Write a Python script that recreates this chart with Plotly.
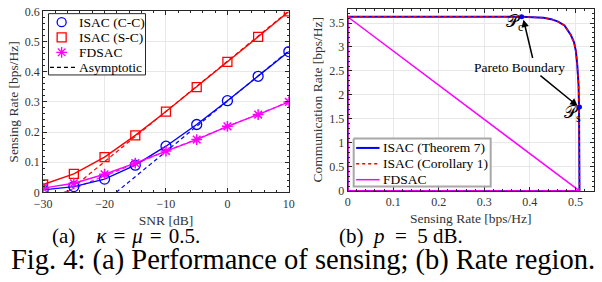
import plotly.graph_objects as go

# ---------------- data (a) ----------------
snr = [-30, -25, -20, -15, -10, -5, 0, 5, 10]
isac_cc = [0.008, 0.019, 0.044, 0.090, 0.153, 0.225, 0.304, 0.385, 0.467]
isac_sc = [0.026, 0.061, 0.117, 0.189, 0.268, 0.349, 0.433, 0.516, 0.600]
fdsac = [0.014, 0.030, 0.060, 0.097, 0.137, 0.175, 0.219, 0.258, 0.300]
asym_cc_x = [-18.1, 10]
asym_cc_y = [0.0, 0.470]
asym_sc_x = [-26.1, 10]
asym_sc_y = [0.0, 0.602]
asym_fd_x = [-26.6, 10]
asym_fd_y = [0.0, 0.300]

# ---------------- data (b) ----------------
isac_rs = [0, 0, 0.382, 0.41, 0.43, 0.447, 0.462, 0.476, 0.49, 0.497, 0.501, 0.504, 0.507, 0.508, 0.509, 0.509, 0]
isac_rc = [0, 3.63, 3.63, 3.625, 3.61, 3.58, 3.53, 3.45, 3.25, 3.1, 2.92, 2.65, 2.2, 1.75, 1.0, 0, 0]
cor_rs = isac_rs
cor_rc = isac_rc
fd_rs = [0, 0, 0.509, 0]
fd_rc = [0, 3.63, 0, 0]
pc_pt = (0.382, 3.63)
ps_pt = (0.509, 1.75)

legend_a = ["ISAC (C-C)", "ISAC (S-C)", "FDSAC", "Asymptotic"]
legend_b = ["ISAC (Theorem 7)", "ISAC (Corollary 1)", "FDSAC"]

BLUE = "#0000FF"
RED = "#FF0000"
MAG = "#FF00FF"
FONT = "Liberation Serif"
AX = "#262626"
TICKC = "#333333"
DASH = "4px,3px"

fig = go.Figure()

# ---- (a) curves ----
for xs, ys, col in [(asym_cc_x, asym_cc_y, BLUE), (asym_sc_x, asym_sc_y, RED), (asym_fd_x, asym_fd_y, MAG)]:
    fig.add_trace(go.Scatter(x=xs, y=ys, mode="lines", line=dict(color=col, dash=DASH, width=1.2),
                             showlegend=False, xaxis="x", yaxis="y"))
fig.add_trace(go.Scatter(x=snr, y=isac_cc, mode="lines+markers", line=dict(color=BLUE, width=1.4),
                         marker=dict(symbol="circle-open", size=10, color=BLUE, line=dict(width=1.3)),
                         showlegend=False, xaxis="x", yaxis="y"))
fig.add_trace(go.Scatter(x=snr, y=isac_sc, mode="lines+markers", line=dict(color=RED, width=1.4),
                         marker=dict(symbol="square-open", size=9, color=RED, line=dict(width=1.3)),
                         showlegend=False, xaxis="x", yaxis="y"))
fig.add_trace(go.Scatter(x=snr, y=fdsac, mode="lines+markers", line=dict(color=MAG, width=1.4),
                         marker=dict(symbol="asterisk-open", size=9, color=MAG, line=dict(width=1.5, color=MAG)),
                         showlegend=False, xaxis="x", yaxis="y"))

# ---- (b) curves ----
fig.add_trace(go.Scatter(x=isac_rs, y=isac_rc, mode="lines", line=dict(color=BLUE, width=2),
                         showlegend=False, xaxis="x2", yaxis="y2"))
fig.add_trace(go.Scatter(x=cor_rs, y=cor_rc, mode="lines", line=dict(color=RED, width=1.5, dash="3px,3px"),
                         showlegend=False, xaxis="x2", yaxis="y2"))
fig.add_trace(go.Scatter(x=fd_rs, y=fd_rc, mode="lines", line=dict(color=MAG, width=1.5),
                         showlegend=False, xaxis="x2", yaxis="y2"))
fig.add_trace(go.Scatter(x=[pc_pt[0], ps_pt[0]], y=[pc_pt[1], ps_pt[1]], mode="markers",
                         marker=dict(color=BLUE, size=5), showlegend=False, xaxis="x2", yaxis="y2"))

# ---- custom legends drawn on a pixel-space overlay (x3/y3) ----
def legend_box(x0, y0, x1, y1, border, bw):
    fig.add_trace(go.Scatter(x=[x0, x1, x1, x0, x0], y=[y0, y0, y1, y1, y0], mode="lines", fill="toself",
                             fillcolor="white", line=dict(color=border, width=bw), showlegend=False,
                             hoverinfo="skip", xaxis="x3", yaxis="y3"))

legend_box(40.5, 7, 140, 71.5, AX, 1)
rows_a = [16, 32, 47.7, 63.5]
for (sym, col), ry in zip([("circle-open", BLUE), ("square-open", RED), ("asterisk-open", MAG)], rows_a[:3]):
    fig.add_trace(go.Scatter(x=[54], y=[ry], mode="markers", cliponaxis=False,
                             marker=dict(symbol=sym, size=9, color=col, line=dict(width=1.3, color=col)),
                             showlegend=False, hoverinfo="skip", xaxis="x3", yaxis="y3"))
fig.add_trace(go.Scatter(x=[42, 68], y=[rows_a[3], rows_a[3]], mode="lines",
                         line=dict(color="black", dash=DASH, width=1.2),
                         showlegend=False, hoverinfo="skip", xaxis="x3", yaxis="y3"))

legend_box(353.5, 138.5, 494, 189, "#a8a8a8", 2)
rows_b = [148.3, 165, 181.7]
for (col, dash, w), ry in zip([(BLUE, "solid", 2), (RED, "3px,3px", 1.5), (MAG, "solid", 1.5)], rows_b):
    fig.add_trace(go.Scatter(x=[356, 380], y=[ry, ry], mode="lines", line=dict(color=col, dash=dash, width=w),
                             showlegend=False, hoverinfo="skip", xaxis="x3", yaxis="y3"))

axcommon = dict(showline=True, linecolor=AX, linewidth=1, mirror="allticks", ticks="inside", ticklen=4,
                tickcolor=AX, showgrid=True, gridcolor="#e8e8e8", gridwidth=1, zeroline=False,
                ticklabeloverflow="allow", fixedrange=True,
                tickfont=dict(family=FONT, size=12, color=TICKC),
                title_font=dict(family=FONT, size=13.5, color=TICKC))

fig.update_layout(
    width=602, height=282, margin=dict(l=0, r=0, t=0, b=0),
    plot_bgcolor="rgba(0,0,0,0)", paper_bgcolor="white", showlegend=False,
    font=dict(family=FONT, size=13, color="black"),
    xaxis=dict(axcommon, domain=[35 / 602, 287 / 602], range=[-30, 10], tickvals=[-30, -20, -10, 0, 10],
               minor=dict(ticks="inside", ticklen=2, dtick=2, tickcolor=AX, showgrid=False),
               title=dict(text="SNR [dB]", standoff=5), anchor="y"),
    yaxis=dict(axcommon, domain=[(282 - 195) / 282, (282 - 4.7) / 282], range=[0, 0.6],
               tickvals=[0, 0.1, 0.2, 0.3, 0.4, 0.5, 0.6], ticktext=["0", "0.1", "0.2", "0.3", "0.4", "0.5", "0.6"],
               minor=dict(ticks="inside", ticklen=2, dtick=0.02, tickcolor=AX, showgrid=False),
               title=dict(text="Sensing Rate [bps/Hz]", standoff=3), anchor="x"),
    xaxis2=dict(axcommon, domain=[347.3 / 602, 600 / 602], range=[0, 0.541],
                tickvals=[0, 0.1, 0.2, 0.3, 0.4, 0.5], ticktext=["0", "0.1", "0.2", "0.3", "0.4", "0.5"],
                minor=dict(ticks="inside", ticklen=2, dtick=0.02, tickcolor=AX, showgrid=False),
                title=dict(text="Sensing Rate [bps/Hz]", standoff=5), anchor="y2"),
    yaxis2=dict(axcommon, domain=[(282 - 193.5) / 282, (282 - 1.7) / 282], range=[0, 3.8],
                tickvals=[0, 0.5, 1, 1.5, 2, 2.5, 3, 3.5], ticktext=["0", "0.5", "1", "1.5", "2", "2.5", "3", "3.5"],
                minor=dict(ticks="inside", ticklen=2, dtick=0.1, tickcolor=AX, showgrid=False),
                title=dict(text="Communication Rate [bps/Hz]", standoff=3), anchor="x2"),
    xaxis3=dict(domain=[0, 1], range=[0, 602], visible=False, anchor="y3", fixedrange=True),
    yaxis3=dict(domain=[0, 1], range=[282, 0], visible=False, anchor="x3", fixedrange=True),
)

ann = []
# legend texts
for t, ry in zip(legend_a, rows_a):
    ann.append(dict(x=70, y=ry, xref="x3", yref="y3", text=t, showarrow=False, xanchor="left", yanchor="middle",
                    font=dict(family=FONT, size=13.5, color="black")))
for t, ry in zip(legend_b, rows_b):
    ann.append(dict(x=382, y=ry, xref="x3", yref="y3", text=t, showarrow=False, xanchor="left", yanchor="middle",
                    font=dict(family=FONT, size=13.5, color="black")))
# arrows
ann.append(dict(x=0.386, y=3.57, ax=0.407, ay=2.74, xref="x2", yref="y2", axref="x2", ayref="y2",
                text="", showarrow=True, arrowhead=2, arrowsize=1, arrowwidth=1.5, arrowcolor="black"))
ann.append(dict(x=0.505, y=1.77, ax=0.42, ay=2.43, xref="x2", yref="y2", axref="x2", ayref="y2",
                text="", showarrow=True, arrowhead=2, arrowsize=1, arrowwidth=1.5, arrowcolor="black"))
ann.append(dict(x=0.378, y=2.58, xref="x2", yref="y2", text="Pareto Boundary", showarrow=False,
                xanchor="center", yanchor="middle", font=dict(family=FONT, size=13.5, color="black")))
ann.append(dict(x=0.366, y=3.50, xref="x2", yref="y2", text="𝒫<sub>c</sub>", showarrow=False,
                xanchor="center", yanchor="middle", font=dict(family=FONT, size=17, color="black")))
ann.append(dict(x=0.494, y=1.61, xref="x2", yref="y2", text="𝒫<sub>s</sub>", showarrow=False,
                xanchor="center", yanchor="middle", font=dict(family=FONT, size=17, color="black")))
# captions
ann.append(dict(x=120 / 602, y=1 - 241 / 282, xref="paper", yref="paper", showarrow=False,
                xanchor="center", yanchor="middle",
                text="(a)\u2003<i>κ</i>\u2004=\u2004<i>μ</i>\u2004=\u20040.5.",
                font=dict(family=FONT, size=21, color="black")))
ann.append(dict(x=402 / 602, y=1 - 241 / 282, xref="paper", yref="paper", showarrow=False,
                xanchor="center", yanchor="middle",
                text="(b)\u2002<i>p</i>\u2002=\u20025 dB.",
                font=dict(family=FONT, size=21, color="black")))
ann.append(dict(x=302 / 602, y=1 - 266 / 282, xref="paper", yref="paper", showarrow=False,
                xanchor="center", yanchor="middle",
                text="Fig. 4: (a) Performance of sensing; (b) Rate region.",
                font=dict(family=FONT, size=28.5, color="black")))
fig.update_layout(annotations=ann)

fig.write_html("out.html", config={"displayModeBar": False},
               post_script="document.body.style.margin='0px';document.body.style.overflow='hidden';")
